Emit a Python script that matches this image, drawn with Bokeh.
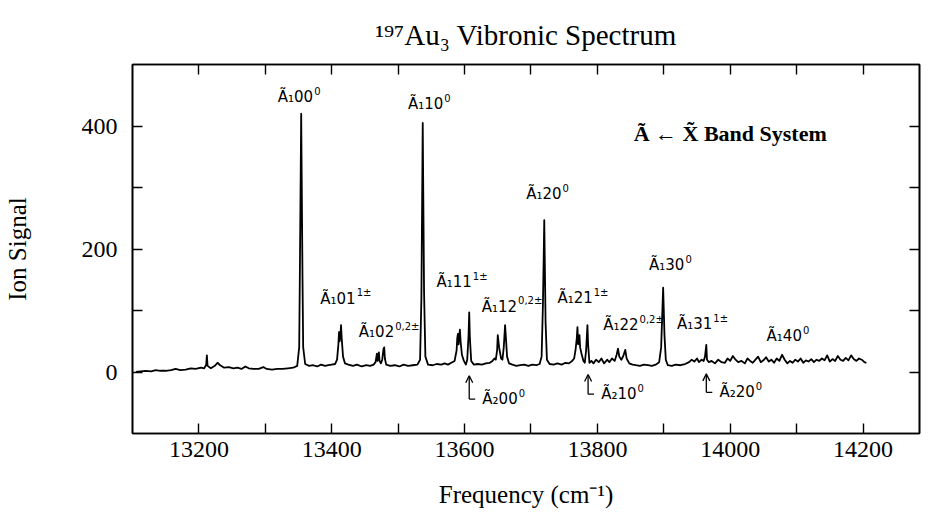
from bokeh.plotting import figure
from bokeh.models import Range1d, FixedTicker, LinearAxis, Arrow, OpenHead, ColumnDataSource
from bokeh.core.properties import value
from bokeh.embed import file_html
from bokeh.resources import INLINE

# ---- spectrum trace (frequency in cm-1, ion signal) ----
FREQ = [
    13105, 13112, 13120, 13128, 13135, 13142, 13150, 13158, 13165, 13172,
    13180, 13188, 13195, 13203, 13208, 13211, 13212, 13213, 13218, 13224,
    13228, 13232, 13238, 13245, 13252, 13258, 13264, 13270, 13275, 13282,
    13290, 13297, 13302, 13310, 13318, 13326, 13334, 13342, 13348, 13351,
    13352, 13354, 13356, 13357, 13360, 13366, 13372, 13378, 13384, 13390,
    13395, 13400, 13405, 13408, 13410, 13411, 13412, 13413, 13414, 13415,
    13417, 13420, 13425, 13432, 13438, 13445, 13452, 13458, 13463, 13466,
    13468, 13469, 13471, 13472, 13474, 13476, 13478, 13479, 13480, 13482,
    13488, 13495, 13502, 13508, 13515, 13522, 13529, 13533, 13535, 13537,
    13539, 13541, 13545, 13552, 13558, 13565, 13570, 13575, 13580, 13585,
    13588, 13589, 13590, 13591, 13592, 13593, 13594, 13596, 13599, 13602,
    13604, 13606, 13607, 13608, 13610, 13614, 13620, 13626, 13632, 13638,
    13642, 13645, 13647, 13649, 13650, 13651, 13652, 13655, 13657, 13659,
    13661, 13662, 13664, 13667, 13672, 13678, 13684, 13690, 13696, 13702,
    13708, 13713, 13716, 13718, 13720, 13722, 13724, 13728, 13734, 13740,
    13746, 13752, 13757, 13762, 13765, 13767, 13769, 13770, 13771, 13772,
    13773, 13774, 13776, 13779, 13781, 13783, 13785, 13786, 13788, 13791,
    13794, 13798, 13802, 13806, 13810, 13815, 13818, 13822, 13826, 13829,
    13831, 13833, 13836, 13839, 13842, 13844, 13848, 13853, 13858, 13864,
    13870, 13876, 13882, 13888, 13893, 13896, 13899, 13901, 13903, 13906,
    13912, 13918, 13925, 13932, 13938, 13942, 13946, 13950, 13953, 13957,
    13960, 13962, 13964, 13965, 13968, 13972, 13977, 13982, 13987, 13992,
    13996, 14000, 14004, 14008, 14012, 14017, 14022, 14026, 14030, 14034,
    14038, 14042, 14046, 14050, 14054, 14058, 14062, 14066, 14070, 14074,
    14078, 14082, 14086, 14090, 14094, 14098, 14102, 14106, 14110, 14114,
    14118, 14122, 14126, 14130, 14134, 14138, 14142, 14146, 14150, 14154,
    14158, 14162, 14166, 14170, 14174, 14178, 14182, 14186, 14190, 14194,
    14198, 14202, 14205,
]
SIGNAL = [
    0, 1, 2, 1, 3, 2, 2, 3, 5, 3,
    4, 6, 5, 7, 6, 12, 27, 10, 6, 10,
    15, 11, 7, 8, 6, 7, 5, 9, 6, 5,
    5, 8, 5, 4, 5, 5, 6, 7, 10, 40,
    160, 420, 150, 40, 13, 10, 11, 9, 12, 10,
    11, 12, 13, 20, 45, 65, 50, 60, 76, 55,
    25, 14, 12, 10, 12, 9, 11, 10, 12, 16,
    30, 18, 32, 18, 14, 20, 38, 40, 22, 12,
    10, 11, 9, 12, 10, 11, 12, 20, 120, 405,
    130, 25, 12, 11, 13, 12, 14, 12, 15, 18,
    35, 55, 62, 45, 58, 69, 50, 28, 18, 12,
    20, 60, 97, 55, 18, 12, 13, 12, 14, 15,
    18, 22, 20, 35, 60, 50, 40, 22, 20, 40,
    76, 60, 25, 14, 12, 10, 11, 12, 10, 12,
    11, 13, 25, 110, 247, 80, 20, 13, 12, 14,
    12, 15, 14, 18, 22, 35, 55, 73, 45, 50,
    60, 40, 30, 18, 15, 35, 76, 45, 15, 18,
    14, 20, 16, 22, 14, 20, 16, 22, 18, 28,
    38, 25, 20, 26, 36, 22, 14, 12, 11, 10,
    12, 11, 10, 12, 16, 40, 137, 60, 20, 11,
    10, 12, 11, 13, 16, 20, 17, 22, 16, 20,
    18, 25, 44, 20, 16, 18, 14, 20, 16, 15,
    22, 18, 26, 20, 16, 18, 14, 22, 18, 15,
    20, 25, 16, 19, 24, 17, 20, 15, 22, 18,
    28, 20, 14, 18, 15, 20, 17, 22, 15, 19,
    17, 21, 16, 20, 18, 22, 19, 27, 17, 21,
    18, 26, 20, 18, 23, 19, 27, 21, 18, 22,
    20, 16, 15,
]

X_TICKS = [13200, 13300, 13400, 13500, 13600, 13700, 13800, 13900, 14000, 14100, 14200]
X_TICK_LABELS = ["13200", "", "13400", "", "13600", "", "13800", "", "14000", "", "14200"]
Y_TICKS = [0, 100, 200, 300, 400]
Y_TICK_LABELS = ["0", "", "200", "", "400"]

# peak assignments: base text, superscript, junction frequency, label height
LABEL_BASE = ["Ã₁00", "Ã₁10", "Ã₁20", "Ã₁30", "Ã₁40", "Ã₁01", "Ã₁02",
              "Ã₁11", "Ã₁12", "Ã₁21", "Ã₁22", "Ã₁31"]
LABEL_SUP = ["0", "0", "0", "0", "0", "1±", "0,2±", "1±", "0,2±", "1±", "0,2±", "1±"]
LABEL_F = [13372, 13568, 13746, 13931, 14108, 13436, 13494, 13611, 13679, 13793, 13862, 13973]
LABEL_V = [447, 436, 289, 174, 58, 119, 65, 146, 106, 120, 76, 78]

# Ã2 progression marked by arrows
ARROW_F = [13607, 13786, 13964]
ARROW_TOP = [-6, -4, -3]
ARROW_BOTTOM = [-44, -36, -33]
ARROW_BASE = ["Ã₂00", "Ã₂10", "Ã₂20"]
ARROW_SUP = ["0", "0", "0"]
ARROW_LABEL_F = [13680, 13859, 14037]

TITLE = "¹⁹⁷Au₃ Vibronic Spectrum"
BAND_TEXT = "Ã ← X̃ Band System"
X_TITLE = "Frequency (cm⁻¹)"
Y_TITLE = "Ion Signal"

SERIF = "Liberation Serif"
SANS = "DejaVu Sans"

p = figure(width=921, height=520, output_backend="svg", toolbar_location=None,
           x_range=Range1d(13100, 14285), y_range=Range1d(-100, 500),
           min_border_left=129, min_border_right=2, min_border_top=64, min_border_bottom=87,
           x_axis_location=None, y_axis_location=None)
p.background_fill_color = "white"
p.border_fill_color = "white"
p.grid.visible = False
p.outline_line_color = "black"
p.outline_line_width = 1.6

p.title.text = TITLE
p.title.align = "center"
p.title.text_font = SERIF
p.title.text_font_size = "29px"
p.title.text_font_style = "normal"
p.title.text_color = "black"
p.title.standoff = 28

bottom_axis = LinearAxis(ticker=FixedTicker(ticks=X_TICKS),
                         major_label_overrides={t: l for t, l in zip(X_TICKS, X_TICK_LABELS)})
left_axis = LinearAxis(ticker=FixedTicker(ticks=Y_TICKS),
                       major_label_overrides={t: l for t, l in zip(Y_TICKS, Y_TICK_LABELS)})
top_axis = LinearAxis(ticker=FixedTicker(ticks=X_TICKS))
right_axis = LinearAxis(ticker=FixedTicker(ticks=Y_TICKS))
p.add_layout(bottom_axis, "below")
p.add_layout(left_axis, "left")
p.add_layout(top_axis, "above")
p.add_layout(right_axis, "right")

for ax in [bottom_axis, left_axis, top_axis, right_axis]:
    ax.axis_line_color = "black"
    ax.axis_line_width = 1.6
    ax.major_tick_in = 10
    ax.major_tick_out = 0
    ax.major_tick_line_width = 1.4
    ax.major_tick_line_color = "black"
    ax.minor_tick_line_color = None

for ax in [top_axis, right_axis]:
    ax.major_label_text_color = None
    ax.major_label_text_font_size = "1px"
    ax.major_label_standoff = 0

for ax in [bottom_axis, left_axis]:
    ax.major_label_text_color = "black"
    ax.major_label_text_font = SERIF
    ax.major_label_text_font_size = "24px"
    ax.axis_label_text_font = SERIF
    ax.axis_label_text_font_size = "25px"
    ax.axis_label_text_font_style = "normal"
    ax.axis_label_text_color = "black"

bottom_axis.major_label_standoff = 8
bottom_axis.axis_label = X_TITLE
bottom_axis.axis_label_standoff = 21
left_axis.major_label_standoff = 15
left_axis.axis_label = Y_TITLE
left_axis.axis_label_standoff = 48

# spectrum
p.line(FREQ, SIGNAL, line_color="black", line_width=1.8, line_join="round")

# peak labels
p.text(x=LABEL_F, y=LABEL_V, text=LABEL_BASE, text_font=value(SANS), text_font_size="15px",
       text_align="right", text_baseline="middle", text_color="black")
p.text(x=LABEL_F, y=LABEL_V, text=LABEL_SUP, text_font=value(SANS), text_font_size="10px",
       text_align="left", text_baseline="middle", text_color="black", x_offset=1, y_offset=-6)

# arrows for the Ã2 progression
src = ColumnDataSource(dict(x=ARROW_F, y0=ARROW_BOTTOM, y1=ARROW_TOP))
p.add_layout(Arrow(end=OpenHead(size=7, line_width=1.3, line_color="black"),
                   x_start="x", y_start="y0", x_end="x", y_end="y1", source=src,
                   line_width=1.3, line_color="black"))
p.segment(x0=ARROW_F, y0=ARROW_BOTTOM, x1=[f + 9 for f in ARROW_F], y1=ARROW_BOTTOM,
          line_color="black", line_width=1.3)
p.text(x=ARROW_LABEL_F, y=ARROW_BOTTOM, text=ARROW_BASE, text_font=value(SANS), text_font_size="15px",
       text_align="right", text_baseline="middle", text_color="black")
p.text(x=ARROW_LABEL_F, y=ARROW_BOTTOM, text=ARROW_SUP, text_font=value(SANS), text_font_size="10px",
       text_align="left", text_baseline="middle", text_color="black", x_offset=1, y_offset=-6)

# band system caption
p.text(x=[14000], y=[388], text=[BAND_TEXT], text_font=value(SERIF), text_font_size="22px",
       text_align="center", text_baseline="middle", text_color="black", text_font_style="bold")

open("out.html", "w").write(file_html(p, INLINE))
